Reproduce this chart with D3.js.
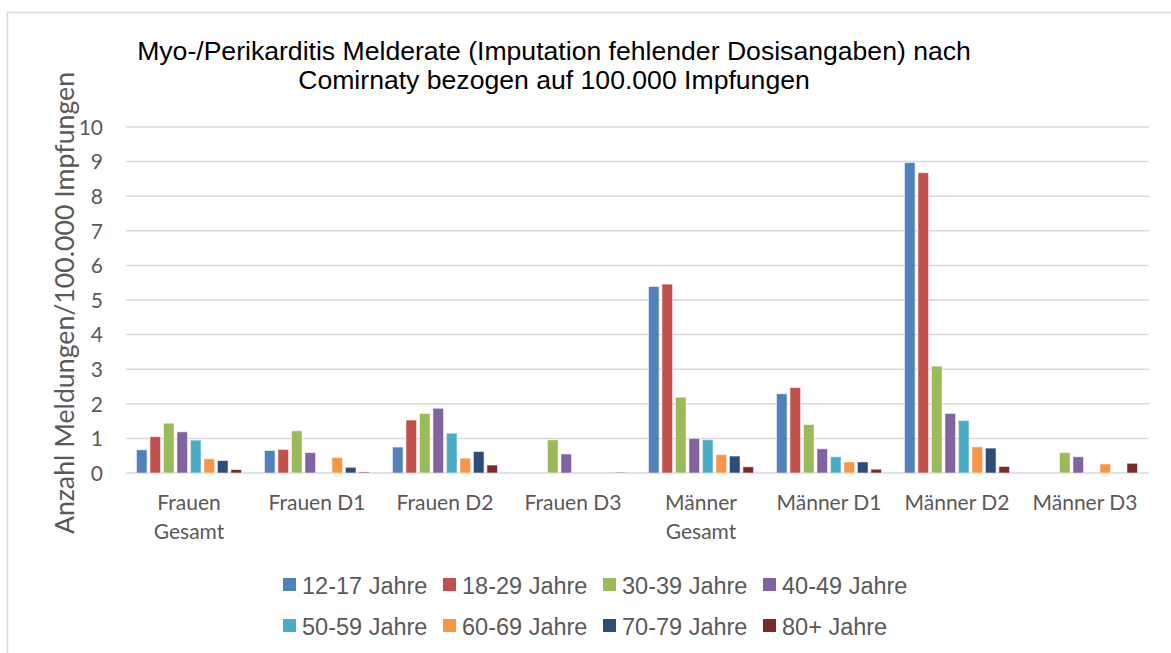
<!DOCTYPE html>
<html><head><meta charset="utf-8">
<script src="https://cdn.jsdelivr.net/npm/d3@7"></script>
<style>body{margin:0;background:#fff}svg{display:block}</style>
</head><body>
<svg id="c" width="1171" height="653"></svg>
<script>
const categories = [["Frauen","Gesamt"],["Frauen D1"],["Frauen D2"],["Frauen D3"],["Männer","Gesamt"],["Männer D1"],["Männer D2"],["Männer D3"]];
const seriesNames = ["12-17 Jahre","18-29 Jahre","30-39 Jahre","40-49 Jahre","50-59 Jahre","60-69 Jahre","70-79 Jahre","80+ Jahre"];
const seriesColors = ["#4F81BD","#C0504D","#9BBB59","#8064A2","#4BACC6","#F79646","#2C4D75","#772C2A"];
const age12_17 = [0.67, 0.65, 0.75, 0,    5.39, 2.29, 8.97, 0];
const age18_29 = [1.05, 0.68, 1.53, 0,    5.46, 2.47, 8.68, 0];
const age30_39 = [1.44, 1.22, 1.72, 0.96, 2.19, 1.40, 3.09, 0.59];
const age40_49 = [1.19, 0.59, 1.87, 0.55, 1.00, 0.70, 1.72, 0.47];
const age50_59 = [0.95, 0,    1.15, 0,    0.96, 0.47, 1.52, 0];
const age60_69 = [0.41, 0.45, 0.43, 0,    0.53, 0.32, 0.755, 0.26];
const age70_79 = [0.36, 0.165,0.62, 0,    0.49, 0.32, 0.72, 0];
const age80p   = [0.10, 0.03, 0.23, 0.02, 0.18, 0.11, 0.19, 0.28];
const yTicks = [0,1,2,3,4,5,6,7,8,9,10];
const titleLines = ["Myo-/Perikarditis Melderate (Imputation fehlender Dosisangaben) nach","Comirnaty bezogen auf 100.000 Impfungen"];
const yTitle = "Anzahl Meldungen/100.000 Impfungen";

const series = [age12_17,age18_29,age30_39,age40_49,age50_59,age60_69,age70_79,age80p];
const svg = d3.select("#c");

// outer frame
svg.append("rect").attr("x",7.5).attr("y",12.5).attr("width",1200).attr("height",700)
  .attr("fill","#fff").attr("stroke","#D9D9D9").attr("stroke-width",1.5);

const pL=125, pR=1149, pT=127, pB=473;
const y = d3.scaleLinear().domain([0,10]).range([pB, pT]);
const x0 = d3.scaleBand().domain(d3.range(categories.length)).range([pL,pR]).padding(0);
const x1 = d3.scaleBand().domain(d3.range(seriesNames.length)).range([0,x0.bandwidth()]).paddingInner(0.214).paddingOuter(0.85);

// gridlines
svg.append("g").selectAll("line").data(yTicks).join("line")
  .attr("x1",pL+1).attr("x2",pR).attr("y1",d=>y(d)).attr("y2",d=>y(d))
  .attr("stroke","#D9D9D9").attr("stroke-width",1.5);

// y axis tick labels
const yAxis = d3.axisLeft(y).tickValues(yTicks).tickSize(0).tickPadding(0).tickFormat(d3.format("d"));
const ga = svg.append("g").attr("transform",`translate(103,0)`).call(yAxis);
ga.select(".domain").remove();
ga.selectAll("text").attr("font-family","Lato").attr("font-size",21).attr("fill","#595959").attr("dy","0.35em");

// bars
const flat = [];
series.forEach((s,si)=>s.forEach((v,ci)=>{ if(v>0) flat.push({si,ci,v}); }));
svg.append("g").selectAll("rect").data(flat).join("rect")
  .attr("x",d=>x0(d.ci)+x1(d.si)).attr("width",x1.bandwidth())
  .attr("y",d=>y(d.v)).attr("height",d=>y(0)-y(d.v))
  .attr("fill",d=>seriesColors[d.si])
  .attr("stroke","#fff").attr("stroke-opacity",0.55).attr("stroke-width",1);

// category labels
const gc = svg.append("g");
categories.forEach((lines,i)=>{
  const t = gc.append("text").attr("x",x0(i)+x0.bandwidth()/2).attr("y",510)
    .attr("text-anchor","middle").attr("font-family","Lato").attr("font-size",21).attr("fill","#595959");
  lines.forEach((l,j)=>t.append("tspan").attr("x",x0(i)+x0.bandwidth()/2).attr("y",510+j*29).text(l));
});

// y title
svg.append("text").attr("transform","translate(74,303) rotate(-90)").attr("text-anchor","middle")
  .attr("font-family","Lato").attr("font-size",26.7).attr("fill","#595959").text(yTitle);

// title
const tt = svg.append("text").attr("text-anchor","middle").attr("font-family","Liberation Sans, Arial").attr("font-size",26.6).attr("fill","#000");
titleLines.forEach((l,j)=>tt.append("tspan").attr("x",554).attr("y",60+j*29).text(l));

// legend
const legX = [283,443,603,763];
const legY = [584.5,625.5];
const lg = svg.append("g");
seriesNames.forEach((n,i)=>{
  const cx = legX[i%4], cy = legY[Math.floor(i/4)];
  lg.append("rect").attr("x",cx).attr("y",cy-6.5).attr("width",13).attr("height",13).attr("fill",seriesColors[i]);
  lg.append("text").attr("x",cx+19).attr("y",cy+9)
    .attr("font-family","Liberation Sans, Arial").attr("font-size",23.5).attr("fill","#595959").text(n);
});
</script>
</body></html>
